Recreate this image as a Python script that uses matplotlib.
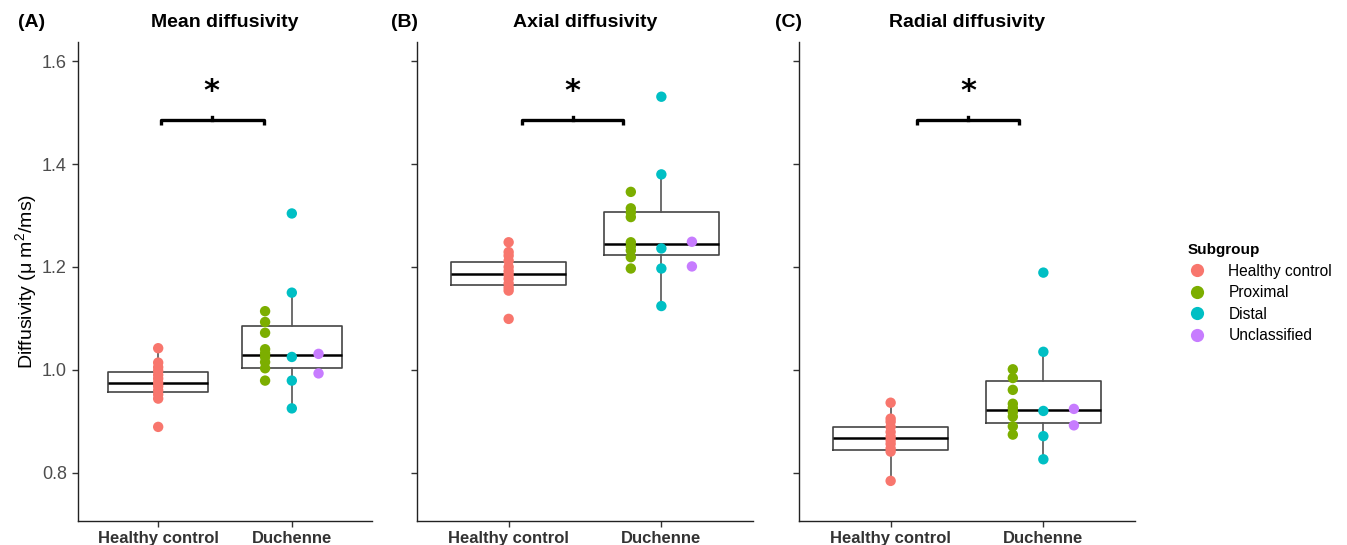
import matplotlib
matplotlib.use('Agg')
import matplotlib.pyplot as plt
from matplotlib.lines import Line2D

plt.rcParams['font.family'] = ['Liberation Sans', 'DejaVu Sans']
plt.rcParams['mathtext.fontset'] = 'custom'
plt.rcParams['mathtext.rm'] = 'Liberation Sans'

##### Data
groups = ['Healthy control', 'Duchenne']
subgroups = ['Healthy control', 'Proximal', 'Distal', 'Unclassified']
colors = ['#F8766D', '#7CAE00', '#00BFC4', '#C77CFF']
titles = ['Mean diffusivity', 'Axial diffusivity', 'Radial diffusivity']
letters = ['(A)', '(B)', '(C)']

# individual subjects, one list per panel (MD, AD, RD)
hc = [[1.042, 1.014, 1.005, 0.998, 0.990, 0.983, 0.975, 0.968, 0.960, 0.952, 0.944, 0.889],
      [1.248, 1.229, 1.222, 1.212, 1.200, 1.192, 1.185, 1.177, 1.168, 1.160, 1.154, 1.099],
      [0.936, 0.905, 0.899, 0.889, 0.879, 0.870, 0.863, 0.856, 0.847, 0.841, 0.784]]
prox = [[1.114, 1.093, 1.072, 1.040, 1.032, 1.025, 1.015, 1.003, 0.979],
        [1.346, 1.314, 1.306, 1.297, 1.248, 1.240, 1.232, 1.219, 1.197],
        [1.001, 0.984, 0.961, 0.934, 0.926, 0.918, 0.909, 0.890, 0.874]]
dist = [[1.304, 1.150, 1.025, 0.979, 0.925],
        [1.531, 1.380, 1.236, 1.197, 1.124],
        [1.189, 1.035, 0.920, 0.871, 0.826]]
uncl = [[1.031, 0.993],
        [1.249, 1.201],
        [0.924, 0.892]]

# box summaries: q1, median, q3, lower whisker, upper whisker
box_hc = [[0.957, 0.975, 0.996, 0.944, 1.042],
          [1.165, 1.187, 1.209, 1.154, 1.248],
          [0.845, 0.868, 0.888, 0.784, 0.936]]
box_dmd = [[1.004, 1.029, 1.085, 0.925, 1.150],
           [1.223, 1.245, 1.306, 1.124, 1.380],
           [0.896, 0.921, 0.978, 0.826, 1.035]]

# significance brackets: x start, x end, x of star
brackets = [(1.02, 1.79, 1.40), (1.09, 1.75, 1.42), (1.17, 1.84, 1.51)]
bracket_y = 1.485
star_y = 1.525

##### Layout
fig = plt.figure(figsize=(13.47, 5.45), dpi=100)
bottom = 1 - 521 / 545
height = (521 - 41.7) / 545
lefts = [78 / 1347, 417 / 1347, 799 / 1347]
widths = [294 / 1347, 336 / 1347, 336 / 1347]
letter_x = [18 / 1347, 391 / 1347, 775 / 1347]

dodge = [0.0, -0.2, 0.0, 0.2]

for k in range(3):
    ax = fig.add_axes([lefts[k], bottom, widths[k], height])

    stats = []
    for b in (box_hc[k], box_dmd[k]):
        stats.append(dict(q1=b[0], med=b[1], q3=b[2], whislo=b[3], whishi=b[4]))
    ax.bxp(stats, positions=[1, 2], widths=0.75, showfliers=False, showcaps=False,
           boxprops=dict(color='#444444', linewidth=1.2),
           whiskerprops=dict(color='#555555', linewidth=1.2),
           medianprops=dict(color='black', linewidth=1.8), zorder=2)

    sets = [hc[k], prox[k], dist[k], uncl[k]]
    base = [1, 2, 2, 2]
    for j in range(4):
        ax.scatter([base[j] + dodge[j]] * len(sets[j]), sets[j], s=56, color=colors[j],
                   edgecolors='none', zorder=3)

    x0, x1, xs = brackets[k]
    ax.plot([x0, x0, x1, x1], [bracket_y - 0.009, bracket_y, bracket_y, bracket_y - 0.009],
            color='black', lw=2.4, solid_capstyle='butt', solid_joinstyle='round', zorder=4)
    ax.plot([(x0 + x1) / 2] * 2, [bracket_y, bracket_y + 0.007], color='black', lw=2.4, zorder=4)
    ax.text(xs, star_y, '*', ha='center', va='baseline', fontsize=22, fontweight='bold',
            family='DejaVu Sans')

    ax.set_xlim(0.4, 2.6)
    ax.set_ylim(0.706, 1.638)
    ax.set_yticks([0.8, 1.0, 1.2, 1.4, 1.6])
    ax.set_xticks([1, 2])
    ax.set_xticklabels(groups, fontsize=12, fontweight='bold', color='#333333')
    for s in ('top', 'right'):
        ax.spines[s].set_visible(False)
    for s in ('left', 'bottom'):
        ax.spines[s].set_color('#222222')
        ax.spines[s].set_linewidth(1.0)
    ax.tick_params(axis='both', length=4, width=1, color='#333333')
    ax.tick_params(axis='x', pad=3)
    ax.tick_params(axis='y', pad=4, labelsize=13, labelcolor='#4D4D4D')
    if k == 0:
        ax.set_ylabel(r'Diffusivity (μ $\mathrm{m}^{2}$/ms)', fontsize=14, color='black')
        ax.yaxis.set_label_coords(-0.128, 0.5)
    else:
        ax.set_yticklabels([])

    fig.text(lefts[k] + widths[k] / 2, 1 - 22.6 / 545, titles[k], ha='center', va='center',
             fontsize=14, fontweight='bold')
    fig.text(letter_x[k], 1 - 22.6 / 545, letters[k], ha='left', va='center',
             fontsize=14, fontweight='bold')

handles = [Line2D([], [], marker='o', linestyle='none', markersize=9.5, color=c,
                  markeredgewidth=0) for c in colors]
leg = fig.legend(handles, subgroups, loc='upper left', bbox_to_anchor=(1188 / 1347, 1 - 243 / 545),
                 frameon=False, fontsize=11.2, title='Subgroup', alignment='left',
                 title_fontproperties={'weight': 'bold', 'size': 11},
                 handlelength=1.2, handletextpad=1.4, labelspacing=0.42,
                 borderpad=0, borderaxespad=0)

fig.savefig('out.png', dpi=100)
